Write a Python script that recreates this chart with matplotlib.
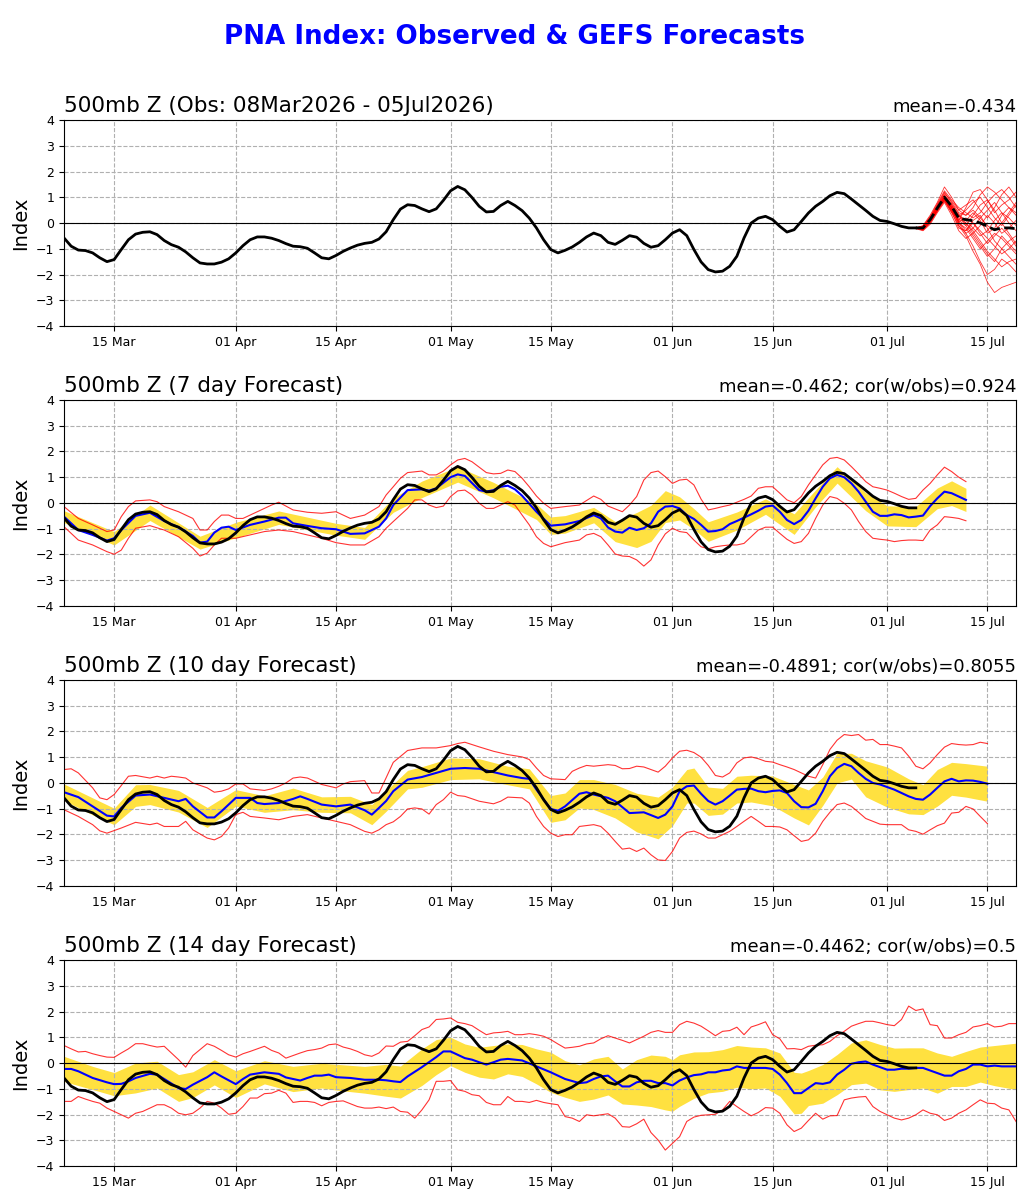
import numpy as np
import matplotlib
matplotlib.use("Agg")
import matplotlib.pyplot as plt
import matplotlib.dates as mdates

start = np.datetime64('2026-03-08')
end = np.datetime64('2026-07-19')

# observed PNA index, daily 08 Mar .. 05 Jul
obs = [-0.58, -0.90, -1.05, -1.07, -1.16, -1.35, -1.50, -1.42, -1.03, -0.65,
       -0.43, -0.36, -0.34, -0.45, -0.68, -0.84, -0.94, -1.12, -1.35, -1.55,
       -1.59, -1.59, -1.52, -1.39, -1.16, -0.88, -0.65, -0.54, -0.54, -0.59,
       -0.68, -0.80, -0.90, -0.92, -0.98, -1.16, -1.35, -1.39, -1.26, -1.10,
       -0.97, -0.86, -0.79, -0.75, -0.62, -0.34, 0.13, 0.54, 0.71, 0.68,
       0.55, 0.44, 0.55, 0.88, 1.25, 1.42, 1.29, 0.99, 0.65, 0.43,
       0.45, 0.68, 0.84, 0.68, 0.48, 0.19, -0.19, -0.65, -1.03, -1.16,
       -1.06, -0.93, -0.75, -0.54, -0.39, -0.49, -0.75, -0.83, -0.67, -0.49,
       -0.55, -0.79, -0.94, -0.88, -0.65, -0.39, -0.26, -0.49, -1.03, -1.51,
       -1.81, -1.90, -1.87, -1.68, -1.29, -0.58, 0.00, 0.19, 0.26, 0.13,
       -0.13, -0.35, -0.26, 0.06, 0.39, 0.65, 0.84, 1.06, 1.19, 1.14,
       0.93, 0.71, 0.49, 0.26, 0.10, 0.06, -0.03, -0.13, -0.19, -0.19]

# GEFS members from 05 Jul, daily to 19 Jul
ens_start = 119
ens_mean = [-0.19, -0.19, 0.13, 0.58, 1.00, 0.65, 0.19, 0.13, 0.09, 0.00,
            -0.13, -0.26, -0.19, -0.19, -0.22]
members = [
    [-0.20, -0.15, 0.20, 0.70, 1.20, 0.80, 0.40, 0.30, 0.60, 1.10, 1.40, 1.20, 0.90, 0.60, 0.40],
    [-0.18, -0.25, 0.05, 0.50, 0.90, 0.50, 0.00, -0.40, -0.90, -1.50, -2.00, -1.80, -1.40, -1.60, -1.90],
    [-0.20, -0.10, 0.30, 0.80, 1.40, 1.00, 0.50, 0.70, 0.90, 0.50, 0.20, 0.60, 1.10, 1.40, 1.00],
    [-0.22, -0.30, -0.05, 0.40, 0.80, 0.30, -0.30, -0.60, -0.40, -0.80, -1.20, -1.50, -1.00, -0.70, -0.50],
    [-0.19, -0.20, 0.10, 0.60, 1.00, 0.70, 0.30, 0.10, -0.20, -0.50, -0.30, 0.10, 0.40, 0.20, -0.10],
    [-0.21, -0.18, 0.15, 0.55, 0.95, 0.60, 0.10, -0.10, 0.30, 0.70, 0.90, 0.50, 0.00, -0.40, -0.80],
    [-0.20, -0.28, 0.00, 0.45, 0.85, 0.40, -0.10, -0.50, -1.10, -1.60, -2.30, -2.70, -2.50, -2.40, -2.30],
    [-0.18, -0.12, 0.25, 0.75, 1.25, 0.90, 0.60, 0.40, 0.20, 0.40, 0.80, 1.10, 1.30, 1.00, 0.60],
    [-0.20, -0.22, 0.08, 0.52, 0.98, 0.55, 0.05, 0.20, 0.00, -0.30, -0.60, -0.90, -1.20, -1.00, -0.70],
    [-0.21, -0.15, 0.18, 0.65, 1.10, 0.75, 0.35, 0.00, -0.40, -0.10, 0.30, 0.00, -0.40, -0.20, 0.10],
    [-0.19, -0.25, 0.02, 0.48, 0.92, 0.45, -0.20, -0.30, 0.10, 0.30, -0.20, -0.70, -1.00, -1.30, -1.60],
    [-0.20, -0.17, 0.12, 0.58, 1.05, 0.65, 0.25, 0.50, 0.80, 1.00, 0.60, 0.20, -0.10, 0.30, 0.70],
    [-0.22, -0.20, 0.10, 0.55, 0.95, 0.50, 0.00, -0.20, -0.60, -1.00, -0.70, -0.40, -0.60, -0.90, -1.20],
    [-0.18, -0.14, 0.22, 0.68, 1.15, 0.85, 0.50, 0.30, 0.50, 0.20, -0.10, -0.30, 0.00, 0.40, 0.80],
    [-0.20, -0.26, 0.04, 0.47, 0.88, 0.42, 0.15, 0.00, -0.30, -0.70, -1.10, -1.40, -1.70, -1.50, -1.40],
    [-0.21, -0.19, 0.16, 0.62, 1.08, 0.70, 0.20, 0.10, 0.40, 0.10, -0.40, -0.20, 0.30, 0.60, 0.30],
    [-0.19, -0.21, 0.09, 0.56, 1.02, 0.60, -0.10, -0.40, -0.20, 0.20, 0.50, 0.80, 0.40, 0.00, -0.30],
    [-0.20, -0.16, 0.14, 0.60, 1.00, 0.62, 0.30, -0.10, -0.50, -0.90, -1.30, -1.00, -0.50, -0.80, -1.10],
    [-0.20, -0.23, 0.06, 0.50, 0.90, 0.48, 0.10, 0.60, 1.20, 1.30, 0.90, 0.40, 0.70, 0.90, 1.20],
    [-0.21, -0.18, 0.11, 0.57, 0.97, 0.58, 0.05, -0.30, 0.00, -0.40, -0.80, -0.50, -0.20, -0.50, -0.90],
]

# 7 day forecast: (day, value) pairs, day 0 = 08 Mar
f7_mean = [(0, -0.53), (2, -1.05), (4, -1.24), (6, -1.46), (7, -1.37), (8, -1.05), (10, -0.50),
           (12, -0.38), (14, -0.70), (16, -0.94), (18, -1.28), (19, -1.54), (20, -1.50), (21, -1.15),
           (22, -0.96), (23, -0.92), (24, -1.05), (26, -0.85), (28, -0.72), (30, -0.57), (31, -0.57),
           (32, -0.79), (34, -0.89), (36, -0.98), (38, -1.02), (40, -1.20), (42, -1.18), (44, -0.92),
           (45, -0.60), (46, -0.08), (48, 0.50), (50, 0.53), (51, 0.48), (52, 0.57), (54, 1.00),
           (55, 1.11), (56, 1.05), (58, 0.50), (59, 0.44), (60, 0.50), (61, 0.63), (62, 0.67),
           (63, 0.53), (64, 0.28), (66, -0.34), (68, -0.88), (70, -0.83), (72, -0.70), (74, -0.47),
           (75, -0.60), (76, -0.95), (77, -1.11), (78, -1.15), (79, -0.96), (80, -1.05), (81, -0.98),
           (82, -0.79), (83, -0.34), (84, -0.14), (85, -0.12), (86, -0.21), (87, -0.47), (88, -0.62),
           (89, -0.85), (90, -1.11), (91, -1.09), (92, -1.02), (93, -0.82), (94, -0.70), (95, -0.57),
           (96, -0.44), (97, -0.30), (98, -0.14), (99, -0.10), (100, -0.34), (101, -0.66),
           (102, -0.82), (103, -0.66), (104, -0.30), (105, 0.18), (106, 0.63), (107, 0.96),
           (108, 1.09), (109, 1.00), (110, 0.76), (111, 0.44), (112, 0.05), (113, -0.34),
           (114, -0.50), (115, -0.50), (116, -0.44), (117, -0.47), (118, -0.56), (119, -0.53),
           (120, -0.49), (121, -0.12), (122, 0.18), (123, 0.44), (124, 0.38), (125, 0.25), (126, 0.12)]
f7_band = [(0, -0.76, -0.30), (7, -1.63, -1.11), (12, -0.68, -0.08), (19, -1.79, -1.29),
           (24, -1.35, -0.75), (30, -0.83, -0.31), (38, -1.25, -0.79), (42, -1.41, -0.95),
           (46, -0.36, 0.20), (50, 0.21, 0.85), (55, 0.81, 1.41), (60, 0.20, 0.80),
           (66, -0.64, -0.04), (68, -1.22, -0.54), (70, -1.17, -0.49), (74, -0.77, -0.17),
           (77, -1.50, -0.72), (80, -1.73, -0.37), (82, -1.49, -0.09), (84, -0.76, 0.48),
           (86, -0.66, 0.24), (88, -1.02, -0.22), (90, -1.49, -0.73), (94, -1.05, -0.35),
           (98, -0.44, 0.16), (102, -1.22, -0.42), (105, -0.15, 0.51), (108, 0.77, 1.41),
           (112, -0.30, 0.40), (115, -0.89, -0.11), (119, -0.92, -0.14), (122, -0.22, 0.58),
           (124, -0.10, 0.86), (126, -0.33, 0.57)]
f7_hi = [(0, -0.14), (2, -0.60), (4, -0.85), (6, -1.11), (7, -1.05), (8, -0.53), (9, -0.14),
         (10, 0.08), (12, 0.12), (13, 0.05), (14, -0.14), (16, -0.34), (18, -0.60), (19, -1.05),
         (20, -1.05), (21, -0.72), (22, -0.47), (23, -0.47), (24, -0.60), (25, -0.60), (26, -0.47),
         (28, -0.21), (29, -0.08), (30, 0.03), (32, -0.27), (34, -0.36), (36, -0.40), (38, -0.34),
         (40, -0.60), (42, -0.47), (44, -0.14), (45, 0.31), (46, 0.63), (47, 0.96), (48, 1.18),
         (50, 1.24), (51, 1.09), (52, 1.09), (53, 1.24), (54, 1.48), (55, 1.67), (56, 1.73),
         (57, 1.60), (58, 1.39), (59, 1.18), (60, 1.13), (61, 1.15), (62, 1.28), (63, 1.22),
         (64, 0.96), (65, 0.63), (66, 0.27), (67, -0.01), (68, -0.21), (70, -0.14), (72, -0.08),
         (74, 0.27), (75, 0.14), (76, -0.12), (78, -0.34), (79, -0.08), (80, 0.25), (81, 0.89),
         (82, 1.18), (83, 1.24), (84, 1.02), (85, 0.76), (86, 0.89), (87, 0.92), (88, 0.70),
         (89, 0.15), (90, -0.27), (91, -0.21), (92, -0.14), (93, -0.08), (94, 0.03), (95, 0.14),
         (96, 0.27), (97, 0.57), (98, 0.63), (99, 0.63), (100, 0.38), (101, 0.12), (102, 0.01),
         (103, 0.25), (104, 0.70), (105, 1.09), (106, 1.48), (107, 1.73), (108, 1.77), (109, 1.67),
         (110, 1.41), (111, 1.13), (112, 0.83), (113, 0.63), (114, 0.57), (115, 0.50), (116, 0.38),
         (117, 0.25), (118, 0.14), (119, 0.18), (120, 0.50), (121, 0.76), (122, 1.09), (123, 1.39),
         (124, 1.22), (125, 1.00), (126, 0.83)]
f7_lo = [(0, -0.92), (2, -1.44), (4, -1.63), (6, -1.89), (7, -1.99), (8, -1.83), (9, -1.37),
         (10, -0.98), (12, -0.88), (14, -1.05), (16, -1.31), (18, -1.76), (19, -2.06), (20, -1.95),
         (21, -1.63), (22, -1.37), (24, -1.37), (26, -1.24), (28, -1.11), (30, -1.05), (32, -1.11),
         (34, -1.24), (36, -1.37), (38, -1.54), (40, -1.63), (42, -1.63), (44, -1.31), (45, -0.98),
         (46, -0.72), (48, -0.21), (49, 0.12), (50, 0.12), (51, -0.08), (52, -0.18), (53, -0.12),
         (54, 0.25), (55, 0.47), (56, 0.50), (57, 0.31), (58, -0.01), (59, -0.21), (60, -0.21),
         (61, -0.08), (62, 0.05), (63, -0.08), (64, -0.47), (65, -0.85), (66, -1.31), (67, -1.57),
         (68, -1.70), (70, -1.54), (72, -1.44), (73, -1.24), (74, -1.18), (75, -1.31), (76, -1.63),
         (77, -1.98), (78, -2.06), (79, -2.08), (80, -2.21), (81, -2.45), (82, -2.21), (83, -1.63),
         (84, -1.20), (85, -0.98), (86, -1.11), (87, -1.15), (88, -1.44), (89, -1.70), (90, -1.78),
         (91, -1.70), (92, -1.66), (93, -1.63), (94, -1.63), (95, -1.57), (96, -1.31), (97, -1.05),
         (98, -0.94), (99, -0.94), (100, -1.18), (101, -1.41), (102, -1.57), (103, -1.50),
         (104, -1.18), (105, -0.60), (106, -0.08), (107, 0.25), (108, 0.18), (109, -0.01),
         (110, -0.27), (111, -0.72), (112, -1.11), (113, -1.37), (114, -1.41), (115, -1.44),
         (116, -1.50), (117, -1.46), (118, -1.44), (119, -1.44), (120, -1.46), (121, -1.05),
         (122, -0.85), (123, -0.53), (124, -0.56), (125, -0.60), (126, -0.69)]

# 10 day forecast
f10_mean = [(0, -0.36), (2, -0.55), (4, -0.91), (6, -1.27), (7, -1.30), (8, -0.97), (10, -0.49),
            (12, -0.45), (14, -0.58), (16, -0.71), (17, -0.62), (18, -0.91), (20, -1.34), (21, -1.34),
            (22, -1.10), (24, -0.58), (26, -0.58), (27, -0.78), (28, -0.82), (30, -0.78), (32, -0.62),
            (33, -0.52), (34, -0.62), (36, -0.84), (38, -0.91), (40, -0.84), (42, -1.06), (43, -1.23),
            (44, -0.97), (45, -0.70), (46, -0.32), (48, 0.13), (50, 0.23), (52, 0.39), (54, 0.55),
            (56, 0.58), (58, 0.55), (60, 0.42), (62, 0.29), (64, 0.19), (65, 0.16), (66, -0.26),
            (68, -1.01), (69, -1.08), (70, -0.91), (72, -0.42), (73, -0.36), (74, -0.45), (76, -0.58),
            (77, -0.71), (79, -1.17), (81, -1.14), (83, -1.36), (84, -1.23), (85, -0.91), (86, -0.32),
            (87, -0.13), (88, -0.10), (89, -0.42), (90, -0.70), (91, -0.84), (92, -0.71), (93, -0.49),
            (94, -0.26), (95, -0.23), (96, -0.22), (97, -0.32), (98, -0.36), (99, -0.31), (100, -0.29),
            (101, -0.39), (102, -0.71), (103, -0.94), (104, -0.95), (105, -0.81), (106, -0.32),
            (107, 0.26), (108, 0.58), (109, 0.74), (110, 0.65), (111, 0.39), (112, 0.16), (113, 0.00),
            (114, -0.06), (115, -0.16), (116, -0.26), (117, -0.39), (118, -0.52), (119, -0.62),
            (120, -0.65), (121, -0.45), (122, -0.19), (123, 0.06), (124, 0.16), (125, 0.06),
            (126, 0.10), (127, 0.09), (128, 0.04), (129, -0.03)]
f10_band = [(0, -0.68, -0.04), (4, -1.24, -0.58), (7, -1.62, -0.98), (10, -0.91, -0.07),
            (12, -0.84, -0.06), (16, -1.13, -0.29), (20, -1.73, -0.95), (24, -0.90, -0.26),
            (28, -1.14, -0.50), (32, -1.04, -0.20), (36, -1.14, -0.54), (40, -1.16, -0.52),
            (43, -1.62, -0.84), (45, -1.10, -0.30), (48, -0.23, 0.49), (50, -0.17, 0.63),
            (54, 0.13, 0.97), (58, 0.16, 0.94), (62, -0.07, 0.65), (65, -0.23, 0.55),
            (68, -1.53, -0.49), (70, -1.43, -0.39), (72, -0.97, 0.13), (74, -1.03, 0.13),
            (77, -1.36, -0.06), (80, -1.90, -0.40), (83, -2.17, -0.55), (85, -1.66, -0.16),
            (87, -0.78, 0.52), (88, -0.78, 0.58), (90, -1.26, -0.16), (92, -1.21, -0.21),
            (94, -0.78, 0.26), (96, -0.74, 0.30), (99, -0.89, 0.27), (102, -1.36, -0.06),
            (104, -1.63, -0.27), (106, -0.87, 0.23), (108, 0.00, 1.16), (110, 0.15, 1.15),
            (112, -0.54, 0.86), (115, -0.94, 0.62), (118, -1.20, 0.16), (120, -1.23, -0.07),
            (122, -0.90, 0.52), (124, -0.48, 0.80), (126, -0.55, 0.75), (129, -0.71, 0.65)]
f10_hi = [(0, 0.52), (1, 0.55), (2, 0.39), (4, -0.19), (5, -0.58), (6, -0.65), (7, -0.45), (8, -0.10),
          (9, 0.26), (10, 0.29), (12, 0.19), (13, 0.26), (14, 0.19), (15, 0.26), (16, 0.23), (17, 0.19),
          (18, 0.00), (20, -0.19), (21, -0.36), (22, -0.32), (23, -0.23), (24, -0.04), (25, -0.04),
          (26, -0.23), (28, -0.29), (29, -0.23), (30, -0.13), (31, 0.00), (32, 0.19), (33, 0.23),
          (34, 0.19), (36, -0.06), (38, -0.19), (39, -0.04), (40, 0.05), (42, 0.09), (43, -0.39),
          (44, -0.39), (45, 0.20), (46, 0.80), (48, 1.26), (50, 1.36), (52, 1.36), (54, 1.45),
          (55, 1.53), (56, 1.58), (58, 1.40), (60, 1.23), (62, 1.10), (64, 1.01), (65, 0.91),
          (66, 0.58), (67, 0.29), (68, 0.16), (70, 0.13), (71, 0.45), (72, 0.58), (73, 0.68),
          (74, 0.65), (76, 0.71), (77, 0.68), (78, 0.55), (79, 0.56), (80, 0.65), (81, 0.62),
          (82, 0.52), (83, 0.42), (84, 0.65), (85, 0.97), (86, 1.23), (87, 1.27), (88, 1.18),
          (89, 1.00), (90, 0.68), (91, 0.29), (92, 0.23), (93, 0.39), (94, 0.78), (95, 0.97),
          (96, 1.01), (97, 0.94), (98, 0.84), (99, 0.81), (100, 0.71), (101, 0.62), (102, 0.52),
          (103, 0.39), (104, 0.26), (105, 0.19), (106, 0.71), (107, 1.30), (108, 1.66), (109, 1.88),
          (110, 1.84), (111, 1.88), (112, 1.66), (113, 1.69), (114, 1.49), (115, 1.49), (116, 1.43),
          (117, 1.36), (118, 1.04), (119, 0.65), (120, 0.55), (121, 0.78), (122, 1.10), (123, 1.39),
          (124, 1.53), (125, 1.49), (126, 1.47), (127, 1.49), (128, 1.58), (129, 1.53)]
f10_lo = [(0, -1.04), (2, -1.30), (4, -1.62), (5, -1.86), (6, -1.95), (8, -1.75), (10, -1.53),
          (12, -1.62), (13, -1.56), (14, -1.69), (16, -1.69), (17, -1.49), (18, -1.82), (20, -2.14),
          (21, -2.21), (22, -2.08), (23, -1.75), (24, -1.23), (25, -1.14), (26, -1.30), (28, -1.36),
          (30, -1.43), (32, -1.30), (34, -1.23), (36, -1.36), (38, -1.49), (40, -1.62), (42, -1.88),
          (43, -1.95), (44, -1.82), (45, -1.62), (46, -1.51), (47, -1.30), (48, -1.01), (49, -0.97),
          (50, -1.01), (51, -1.21), (52, -0.84), (53, -0.65), (54, -0.36), (55, -0.49), (56, -0.52),
          (58, -0.71), (60, -0.81), (61, -0.71), (62, -0.55), (64, -0.58), (65, -0.78), (66, -1.30),
          (67, -1.69), (68, -1.95), (69, -2.08), (70, -2.01), (71, -2.01), (72, -1.69), (74, -1.62),
          (75, -1.69), (76, -1.95), (77, -2.27), (78, -2.57), (79, -2.53), (80, -2.66), (81, -2.53),
          (82, -2.79), (83, -2.99), (84, -3.01), (85, -2.66), (86, -2.14), (87, -1.92), (88, -1.87),
          (89, -1.98), (90, -2.14), (91, -2.14), (92, -2.01), (93, -1.88), (94, -1.69), (95, -1.49),
          (96, -1.30), (97, -1.49), (98, -1.69), (99, -1.69), (100, -1.71), (101, -1.82), (102, -2.05),
          (103, -2.27), (104, -2.21), (105, -1.95), (106, -1.49), (107, -1.14), (108, -0.84),
          (109, -0.78), (110, -0.91), (111, -1.14), (112, -1.38), (113, -1.49), (114, -1.60),
          (115, -1.62), (116, -1.62), (117, -1.62), (118, -1.82), (119, -1.88), (120, -1.99),
          (121, -1.82), (122, -1.66), (123, -1.56), (124, -1.17), (125, -1.14), (126, -0.91),
          (127, -1.01), (128, -1.30), (129, -1.58)]

# 14 day forecast
f14_mean = [(0, -0.23), (1, -0.23), (2, -0.32), (4, -0.58), (6, -0.75), (7, -0.82), (8, -0.81),
            (9, -0.71), (10, -0.58), (12, -0.42), (13, -0.45), (14, -0.62), (16, -0.97), (17, -1.01),
            (18, -0.84), (20, -0.55), (21, -0.36), (22, -0.52), (24, -0.82), (25, -0.62), (26, -0.45),
            (28, -0.36), (30, -0.42), (31, -0.56), (32, -0.62), (33, -0.68), (34, -0.58), (35, -0.49),
            (36, -0.49), (37, -0.45), (38, -0.55), (40, -0.58), (42, -0.65), (44, -0.65), (45, -0.67),
            (46, -0.71), (47, -0.74), (48, -0.52), (50, -0.16), (52, 0.23), (53, 0.45), (54, 0.45),
            (56, 0.19), (57, 0.13), (58, 0.03), (59, -0.06), (60, 0.03), (61, 0.13), (62, 0.16),
            (64, 0.10), (66, -0.13), (68, -0.36), (70, -0.62), (72, -0.78), (73, -0.75), (74, -0.62),
            (75, -0.52), (76, -0.49), (77, -0.71), (78, -0.91), (79, -0.91), (80, -0.75), (81, -0.69),
            (82, -0.69), (83, -0.78), (84, -0.78), (85, -0.87), (86, -0.68), (87, -0.56), (88, -0.47),
            (89, -0.44), (90, -0.36), (91, -0.36), (92, -0.29), (93, -0.26), (94, -0.13), (95, -0.19),
            (96, -0.19), (97, -0.19), (98, -0.19), (99, -0.23), (100, -0.45), (101, -0.78),
            (102, -1.17), (103, -1.17), (104, -0.97), (105, -0.78), (106, -0.81), (107, -0.75),
            (108, -0.45), (109, -0.26), (110, -0.03), (111, 0.03), (112, 0.06), (113, -0.06),
            (114, -0.16), (115, -0.26), (116, -0.26), (117, -0.22), (118, -0.22), (119, -0.19),
            (120, -0.19), (121, -0.29), (122, -0.39), (123, -0.49), (124, -0.49), (125, -0.32),
            (126, -0.23), (127, -0.06), (128, -0.06), (129, -0.13), (130, -0.10), (131, -0.13),
            (132, -0.13), (133, -0.13)]
f14_band = [(0, -0.72, 0.26), (4, -1.03, -0.13), (7, -1.27, -0.37), (10, -1.16, 0.00),
            (13, -0.97, 0.07), (16, -1.49, -0.45), (18, -1.34, -0.34), (21, -0.85, 0.13),
            (24, -1.34, -0.30), (28, -0.81, 0.09), (32, -1.11, -0.13), (36, -0.97, -0.01),
            (38, -1.05, -0.05), (42, -1.17, -0.13), (45, -1.29, -0.05), (47, -1.36, -0.12),
            (50, -0.87, 0.55), (52, -0.45, 0.91), (54, -0.10, 1.00), (56, -0.36, 0.74),
            (58, -0.55, 0.61), (60, -0.62, 0.68), (62, -0.42, 0.74), (64, -0.52, 0.72),
            (66, -0.81, 0.55), (68, -1.14, 0.42), (70, -1.33, 0.09), (72, -1.49, -0.07),
            (74, -1.40, 0.16), (76, -1.24, 0.26), (78, -1.59, -0.23), (80, -1.63, 0.13),
            (82, -1.69, 0.31), (84, -1.82, 0.26), (85, -1.87, 0.13), (86, -1.68, 0.32),
            (88, -1.37, 0.43), (90, -1.16, 0.44), (92, -1.10, 0.52), (94, -0.94, 0.68),
            (96, -1.00, 0.62), (98, -0.97, 0.59), (100, -1.29, 0.39), (102, -1.98, -0.36),
            (103, -1.95, -0.39), (104, -1.65, -0.29), (106, -1.56, -0.06), (108, -1.23, 0.33),
            (110, -0.84, 0.78), (112, -0.78, 0.90), (114, -1.04, 0.72), (116, -1.10, 0.58),
            (118, -1.03, 0.59), (120, -0.97, 0.59), (122, -1.17, 0.39), (124, -0.91, 0.26),
            (126, -0.91, 0.45), (128, -0.74, 0.62), (130, -0.88, 0.68), (133, -1.03, 0.77)]
# red envelope, daily from 08 Mar
f14_hi = [0.68, 0.55, 0.43, 0.45, 0.36, 0.29, 0.23, 0.22, 0.39, 0.55, 0.75, 0.75, 0.68, 0.62,
          0.65, 0.39, 0.13, -0.16, 0.29, 0.52, 0.75, 0.65, 0.49, 0.32, 0.23, 0.36, 0.45, 0.55,
          0.65, 0.49, 0.39, 0.19, 0.29, 0.39, 0.48, 0.52, 0.58, 0.71, 0.74, 0.62, 0.55, 0.45,
          0.32, 0.26, 0.39, 0.66, 0.65, 0.81, 0.84, 1.06, 1.30, 1.40, 1.69, 1.71, 1.75, 1.58,
          1.53, 1.45, 1.27, 1.10, 1.17, 1.19, 1.23, 1.10, 1.10, 1.14, 1.10, 1.04, 0.91, 0.74,
          0.58, 0.61, 0.65, 0.74, 0.78, 0.94, 1.06, 0.97, 0.88, 0.78, 0.91, 1.04, 1.19, 1.26,
          1.19, 1.19, 1.49, 1.62, 1.55, 1.43, 1.25, 1.06, 1.23, 1.26, 1.39, 1.10, 1.40, 1.49,
          1.60, 1.10, 0.94, 0.55, 0.56, 0.52, 0.65, 0.69, 0.71, 0.84, 1.06, 1.23, 1.43, 1.53,
          1.62, 1.62, 1.56, 1.49, 1.45, 1.69, 2.21, 2.04, 2.10, 1.49, 1.45, 0.97, 0.97, 1.10,
          1.19, 1.40, 1.45, 1.53, 1.40, 1.43, 1.53, 1.53]
f14_lo = [-1.49, -1.49, -1.30, -1.40, -1.49, -1.56, -1.75, -1.88, -2.01, -2.14, -1.95, -1.88,
          -1.75, -1.62, -1.62, -1.75, -1.95, -2.01, -1.95, -1.75, -1.49, -1.56, -1.75, -1.99,
          -1.95, -1.69, -1.36, -1.36, -1.19, -1.17, -1.06, -1.17, -1.53, -1.49, -1.49, -1.53,
          -1.66, -1.53, -1.49, -1.47, -1.58, -1.69, -1.75, -1.75, -1.71, -1.77, -1.71, -1.88,
          -1.91, -2.14, -1.82, -1.43, -0.71, -0.71, -0.68, -1.04, -1.10, -1.23, -1.27, -1.53,
          -1.62, -1.62, -1.30, -1.49, -1.49, -1.53, -1.45, -1.53, -1.58, -1.62, -2.08, -2.14,
          -2.27, -2.01, -2.05, -2.01, -1.97, -2.14, -2.47, -2.49, -2.36, -2.18, -2.70, -2.99,
          -3.38, -3.12, -2.86, -2.27, -2.10, -2.03, -2.01, -1.99, -1.82, -1.49, -1.69, -1.88,
          -2.05, -1.92, -1.73, -1.75, -1.95, -2.40, -2.66, -2.53, -2.23, -1.95, -2.18, -2.05,
          -2.04, -1.43, -1.36, -1.32, -1.30, -1.69, -1.88, -2.01, -2.14, -2.21, -2.14, -2.01,
          -1.82, -1.95, -2.01, -2.23, -2.14, -1.95, -1.82, -1.62, -1.43, -1.56, -1.58, -1.75,
          -1.82, -2.27]

titles = ["500mb Z (Obs: 08Mar2026 - 05Jul2026)", "500mb Z (7 day Forecast)",
          "500mb Z (10 day Forecast)", "500mb Z (14 day Forecast)"]
stats = ["mean=-0.434", "mean=-0.462; cor(w/obs)=0.924",
         "mean=-0.4891; cor(w/obs)=0.8055", "mean=-0.4462; cor(w/obs)=0.5"]


def dates(days):
    return start + np.asarray(days).astype('timedelta64[D]')


def split(pairs):
    cols = list(zip(*pairs))
    return [dates(cols[0])] + [np.array(c) for c in cols[1:]]


def style(ax, i):
    ax.set_xlim(start, end)
    ax.set_ylim(-4, 4)
    ax.set_yticks(range(-4, 5))
    ax.axhline(0, color='k', lw=0.8)
    ax.grid(True, ls='--', color='#b0b0b0', lw=0.8)
    ax.xaxis.set_major_locator(mdates.DayLocator(bymonthday=[1, 15]))
    ax.xaxis.set_major_formatter(mdates.DateFormatter('%d %b'))
    ax.tick_params(labelsize=9)
    ax.set_ylabel('Index', fontsize=14)
    ax.set_title(titles[i], loc='left', fontsize=15.5)
    ax.set_title(stats[i], loc='right', fontsize=13)


fig = plt.figure(figsize=(10.29, 12), dpi=100)
fig.suptitle("PNA Index: Observed & GEFS Forecasts", color='blue',
             fontsize=18.8, fontweight='bold', y=0.98)

bottoms = [0.7283, 0.495, 0.2617, 0.0283]
axes = [fig.add_axes([0.0622, b, 0.9252, 0.1717]) for b in bottoms]

obs_x = dates(np.arange(len(obs)))

# top panel: observations + ensemble members
ax = axes[0]
ens_x = dates(ens_start + np.arange(len(ens_mean)))
for m in members:
    ax.plot(ens_x, m, color='red', lw=0.6, alpha=0.8)
ax.plot(obs_x, obs, color='k', lw=2)
ax.plot(ens_x, ens_mean, color='k', lw=2, ls='--')
style(ax, 0)

forecasts = [(f7_mean, f7_band, f7_hi, f7_lo),
             (f10_mean, f10_band, f10_hi, f10_lo),
             (f14_mean, f14_band, f14_hi, f14_lo)]
for i, (mean, band, hi, lo) in enumerate(forecasts, start=1):
    ax = axes[i]
    bx, blo, bhi = split(band)
    ax.fill_between(bx, blo, bhi, color='gold', alpha=0.75, lw=0)
    if isinstance(hi[0], tuple):
        hx, hv = split(hi)
        lx, lv = split(lo)
    else:
        hx, hv = dates(np.arange(len(hi))), hi
        lx, lv = dates(np.arange(len(lo))), lo
    ax.plot(hx, hv, color='red', lw=0.8, alpha=0.8)
    ax.plot(lx, lv, color='red', lw=0.8, alpha=0.8)
    mx, mv = split(mean)
    ax.plot(mx, mv, color='blue', lw=1.5)
    ax.plot(obs_x, obs, color='k', lw=2)
    style(ax, i)

fig.savefig('out.png', dpi=100)
